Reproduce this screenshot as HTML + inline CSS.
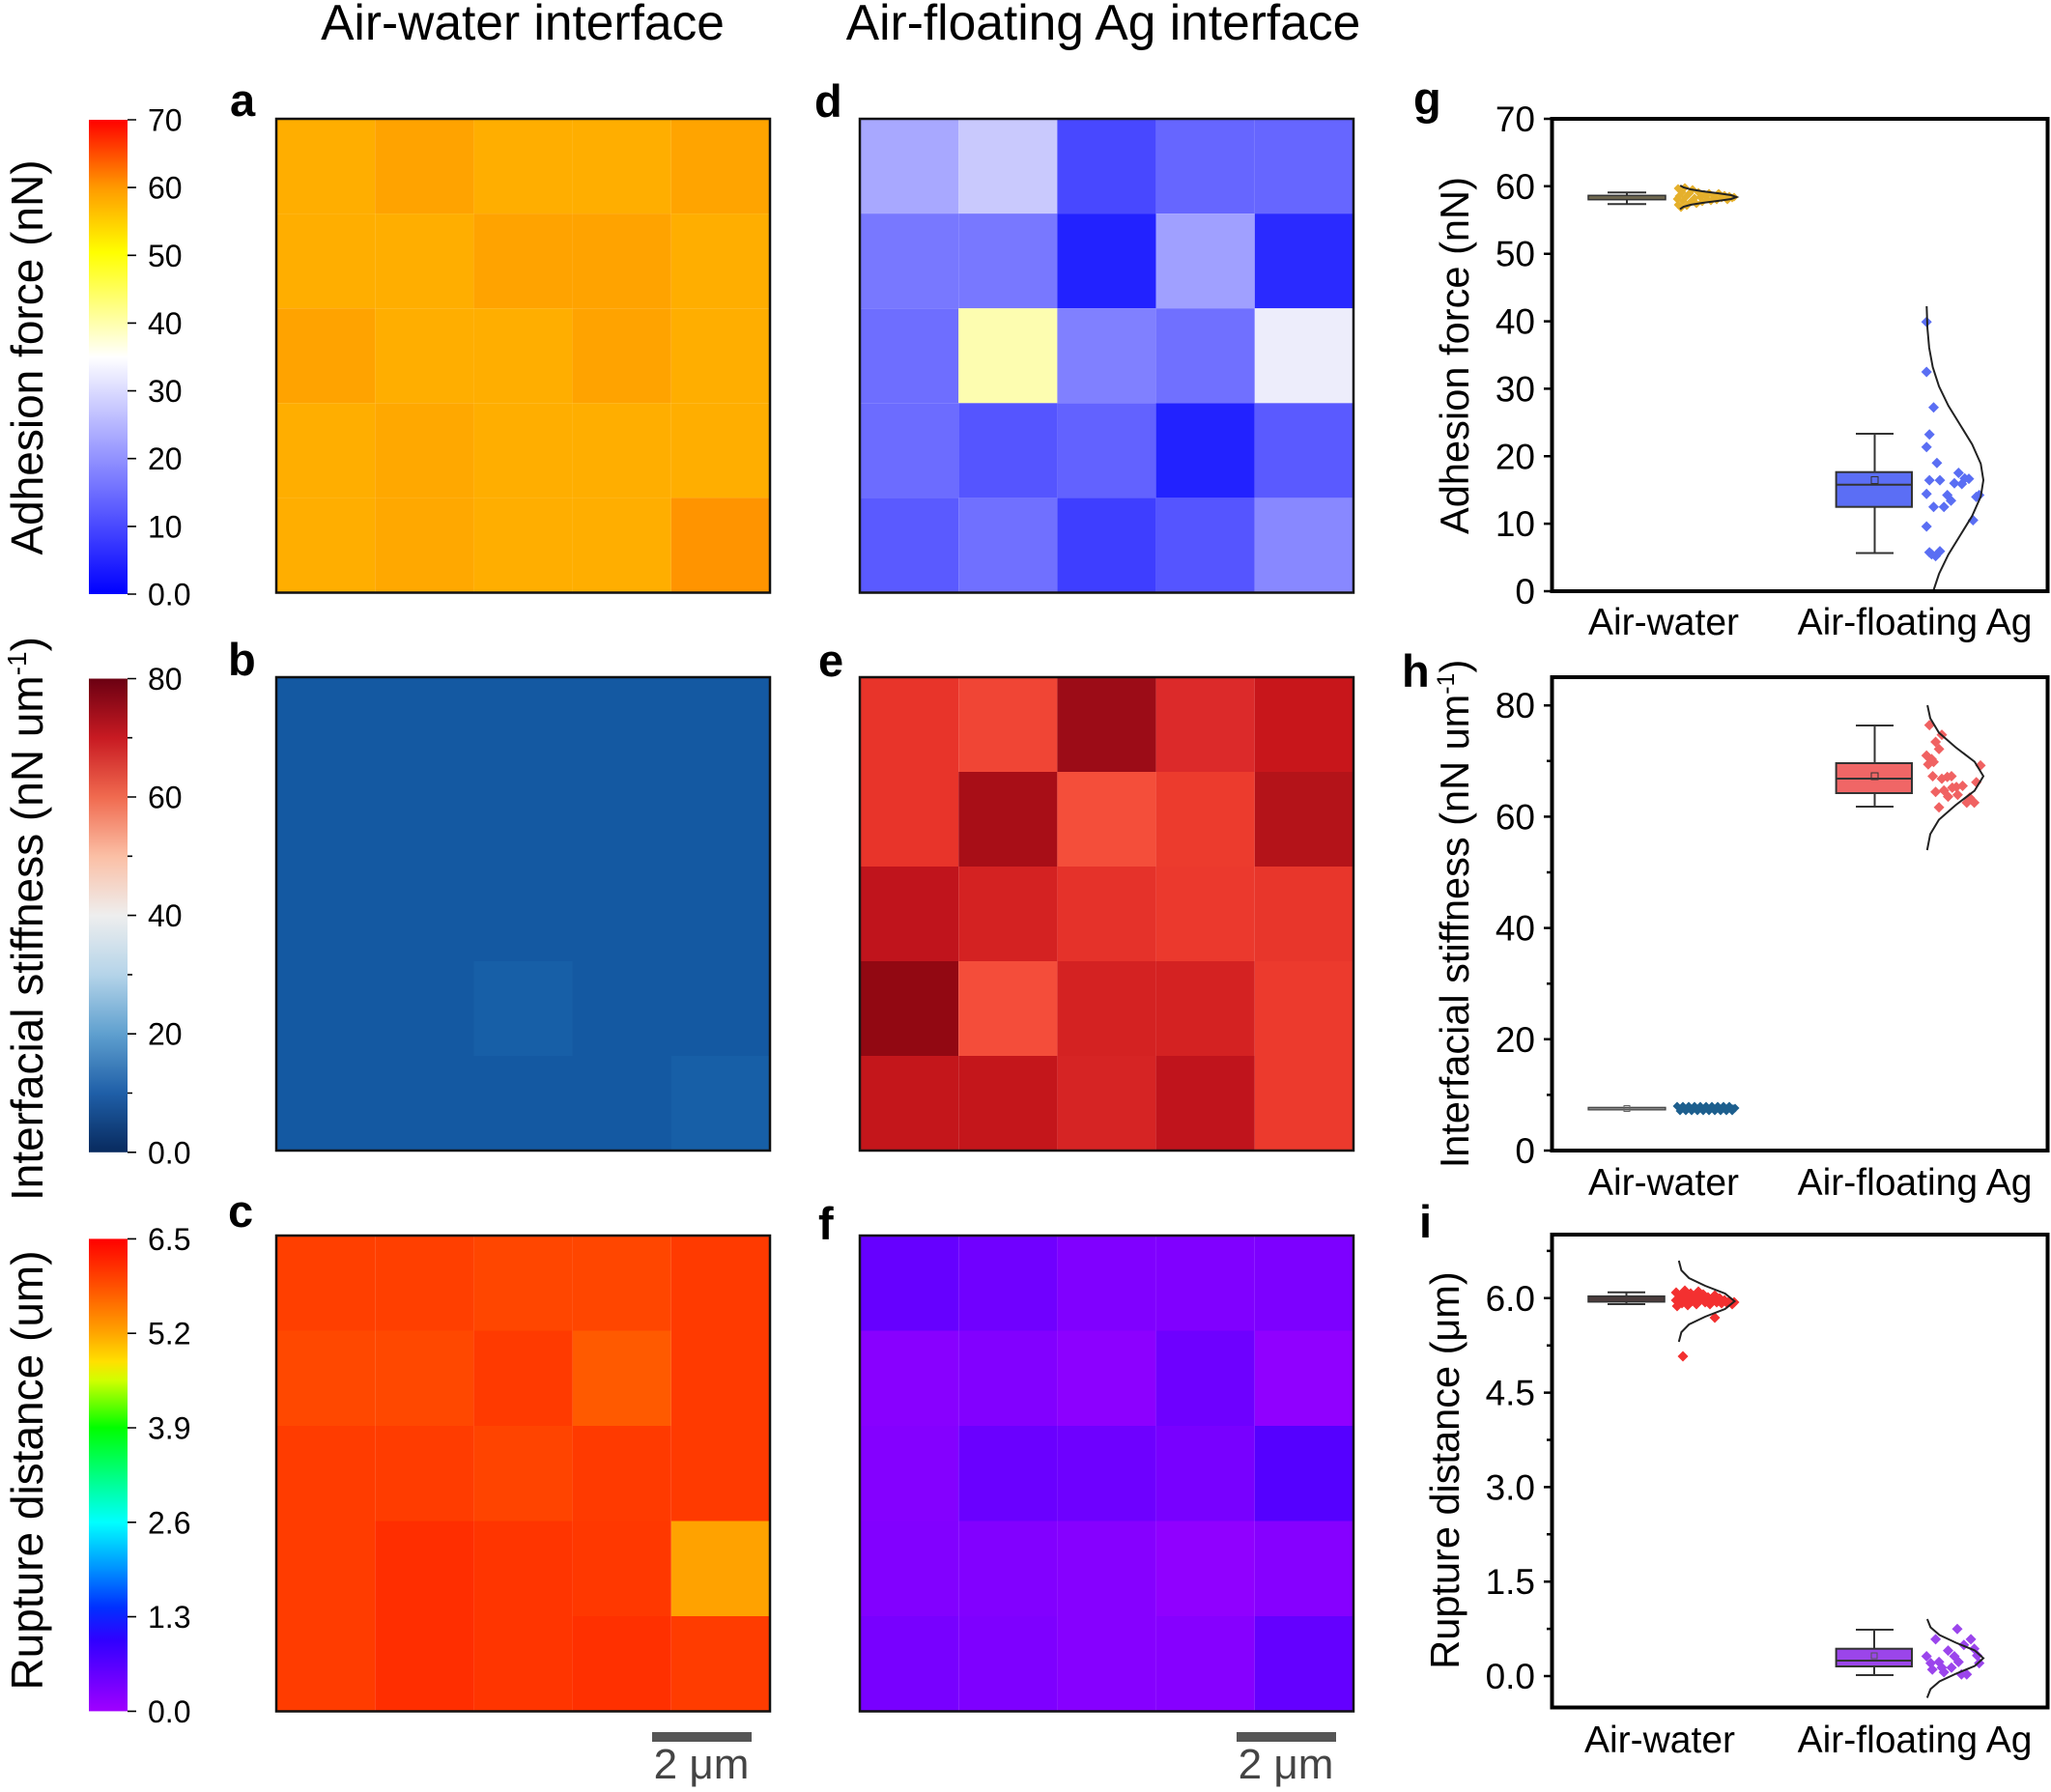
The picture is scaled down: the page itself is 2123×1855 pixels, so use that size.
<!DOCTYPE html>
<html><head><meta charset="utf-8"><style>
html,body{margin:0;padding:0;background:#fff;}
svg{display:block;font-family:"Liberation Sans",Arial,sans-serif;}
</style></head><body>
<svg width="2123" height="1855" viewBox="0 0 2123 1855" xmlns="http://www.w3.org/2000/svg">
<defs>
<linearGradient id="ga" x1="0" y1="1" x2="0" y2="0">
<stop offset="0" stop-color="#0000ff"/><stop offset="0.5" stop-color="#ffffff"/><stop offset="0.72" stop-color="#ffff00"/><stop offset="0.857" stop-color="#ff9a00"/><stop offset="1" stop-color="#ff0000"/>
</linearGradient>
<linearGradient id="gb" x1="0" y1="1" x2="0" y2="0">
<stop offset="0" stop-color="#082a5e"/><stop offset="0.125" stop-color="#1f5fa8"/><stop offset="0.25" stop-color="#5fa0cf"/><stop offset="0.375" stop-color="#b5d4e9"/><stop offset="0.5" stop-color="#eeeeee"/><stop offset="0.625" stop-color="#fbbfa5"/><stop offset="0.75" stop-color="#f06a4f"/><stop offset="0.875" stop-color="#c81a22"/><stop offset="1" stop-color="#6b0012"/>
</linearGradient>
<linearGradient id="gc" x1="0" y1="1" x2="0" y2="0">
<stop offset="0" stop-color="#a000ff"/><stop offset="0.15" stop-color="#3000ff"/><stop offset="0.22" stop-color="#0030ff"/><stop offset="0.3" stop-color="#0090ff"/><stop offset="0.4" stop-color="#00ffff"/><stop offset="0.5" stop-color="#00ff80"/><stop offset="0.6" stop-color="#00ff00"/><stop offset="0.7" stop-color="#d0ff00"/><stop offset="0.74" stop-color="#ffe000"/><stop offset="0.8" stop-color="#ffa500"/><stop offset="0.9" stop-color="#ff5000"/><stop offset="1" stop-color="#ff0000"/>
</linearGradient>
<path id="dm" d="M0,-5.5L5.5,0L0,5.5L-5.5,0Z"/>
<path id="ds" d="M0,-4.5L4.5,0L0,4.5L-4.5,0Z"/>
</defs>

<!-- Titles -->
<text x="541" y="41" font-size="51.5" text-anchor="middle">Air-water interface</text>
<text x="1142" y="41" font-size="51.5" text-anchor="middle">Air-floating Ag interface</text>

<!-- Panel labels -->
<g font-size="47" font-weight="bold">
<text x="238" y="120">a</text><text x="843" y="121">d</text><text x="1463" y="118">g</text>
<text x="236" y="699">b</text><text x="847" y="700">e</text><text x="1451" y="711">h</text>
<text x="236" y="1270">c</text><text x="847" y="1283">f</text><text x="1469" y="1281">i</text>
</g>

<!-- Colorbars -->
<rect x="92" y="124" width="40" height="491" fill="url(#ga)"/>
<rect x="92" y="702.5" width="40" height="490.3" fill="url(#gb)"/>
<rect x="92" y="1282.4" width="40" height="489" fill="url(#gc)"/>
<g stroke="#000" stroke-width="1.6">
<path d="M132,615H141M132,544.9H141M132,474.7H141M132,404.6H141M132,334.4H141M132,264.3H141M132,194.1H141M132,124H141"/>
<path d="M132,1192.8H141M132,1070.2H141M132,947.6H141M132,825H141M132,702.5H141M132,1131.5H137M132,1008.9H137M132,886.3H137M132,763.7H137"/>
<path d="M132,1771.4H141M132,1673.6H141M132,1575.8H141M132,1478H141M132,1380.2H141M132,1282.4H141"/>
</g>
<g font-size="32">
<text x="153" y="626.5">0.0</text><text x="153" y="556.4">10</text><text x="153" y="486.2">20</text><text x="153" y="416.1">30</text><text x="153" y="345.9">40</text><text x="153" y="275.8">50</text><text x="153" y="205.6">60</text><text x="153" y="135.5">70</text>
<text x="153" y="1204.3">0.0</text><text x="153" y="1081.7">20</text><text x="153" y="959.1">40</text><text x="153" y="836.5">60</text><text x="153" y="714">80</text>
<text x="153" y="1782.9">0.0</text><text x="153" y="1685.1">1.3</text><text x="153" y="1587.3">2.6</text><text x="153" y="1489.5">3.9</text><text x="153" y="1391.7">5.2</text><text x="153" y="1293.9">6.5</text>
</g>
<g font-size="46" text-anchor="middle">
<text transform="translate(44,370) rotate(-90)">Adhesion force (nN)</text>
<text transform="translate(44,951) rotate(-90)">Interfacial stiffness (nN um<tspan font-size="28" dy="-17">-1</tspan><tspan dy="17">)</tspan></text>
<text transform="translate(44,1522) rotate(-90)">Rupture distance (um)</text>
</g>

<!-- Heatmap a -->
<g>
<rect x="286" y="123" width="102.2" height="98.1" fill="#ffae00"/><rect x="388.2" y="123" width="102.2" height="98.1" fill="#ffa300"/><rect x="490.4" y="123" width="102.2" height="98.1" fill="#ffae00"/><rect x="592.6" y="123" width="102.2" height="98.1" fill="#ffae00"/><rect x="694.8" y="123" width="102.2" height="98.1" fill="#ffa400"/>
<rect x="286" y="221.1" width="102.2" height="98.1" fill="#ffae00"/><rect x="388.2" y="221.1" width="102.2" height="98.1" fill="#ffae00"/><rect x="490.4" y="221.1" width="102.2" height="98.1" fill="#ffa300"/><rect x="592.6" y="221.1" width="102.2" height="98.1" fill="#ffa300"/><rect x="694.8" y="221.1" width="102.2" height="98.1" fill="#ffae00"/>
<rect x="286" y="319.2" width="102.2" height="98.1" fill="#ffa300"/><rect x="388.2" y="319.2" width="102.2" height="98.1" fill="#ffae00"/><rect x="490.4" y="319.2" width="102.2" height="98.1" fill="#ffae00"/><rect x="592.6" y="319.2" width="102.2" height="98.1" fill="#ffa300"/><rect x="694.8" y="319.2" width="102.2" height="98.1" fill="#ffae00"/>
<rect x="286" y="417.3" width="102.2" height="98.1" fill="#ffae00"/><rect x="388.2" y="417.3" width="102.2" height="98.1" fill="#ffa800"/><rect x="490.4" y="417.3" width="102.2" height="98.1" fill="#ffae00"/><rect x="592.6" y="417.3" width="102.2" height="98.1" fill="#ffae00"/><rect x="694.8" y="417.3" width="102.2" height="98.1" fill="#ffae00"/>
<rect x="286" y="515.4" width="102.2" height="98.1" fill="#ffae00"/><rect x="388.2" y="515.4" width="102.2" height="98.1" fill="#ffa800"/><rect x="490.4" y="515.4" width="102.2" height="98.1" fill="#ffae00"/><rect x="592.6" y="515.4" width="102.2" height="98.1" fill="#ffae00"/><rect x="694.8" y="515.4" width="102.2" height="98.1" fill="#ff9400"/>
</g>
<!-- Heatmap d -->
<g>
<rect x="890" y="123" width="102.2" height="98.1" fill="#a8a8ff"/><rect x="992.2" y="123" width="102.2" height="98.1" fill="#c9c9fd"/><rect x="1094.4" y="123" width="102.2" height="98.1" fill="#4848ff"/><rect x="1196.6" y="123" width="102.2" height="98.1" fill="#6666ff"/><rect x="1298.8" y="123" width="102.2" height="98.1" fill="#6666ff"/>
<rect x="890" y="221.1" width="102.2" height="98.1" fill="#7878ff"/><rect x="992.2" y="221.1" width="102.2" height="98.1" fill="#7878ff"/><rect x="1094.4" y="221.1" width="102.2" height="98.1" fill="#2222ff"/><rect x="1196.6" y="221.1" width="102.2" height="98.1" fill="#a0a0ff"/><rect x="1298.8" y="221.1" width="102.2" height="98.1" fill="#2a2aff"/>
<rect x="890" y="319.2" width="102.2" height="98.1" fill="#6e6eff"/><rect x="992.2" y="319.2" width="102.2" height="98.1" fill="#fdfdb0"/><rect x="1094.4" y="319.2" width="102.2" height="98.1" fill="#8080ff"/><rect x="1196.6" y="319.2" width="102.2" height="98.1" fill="#7070ff"/><rect x="1298.8" y="319.2" width="102.2" height="98.1" fill="#ededfb"/>
<rect x="890" y="417.3" width="102.2" height="98.1" fill="#6c6cff"/><rect x="992.2" y="417.3" width="102.2" height="98.1" fill="#5555ff"/><rect x="1094.4" y="417.3" width="102.2" height="98.1" fill="#6262ff"/><rect x="1196.6" y="417.3" width="102.2" height="98.1" fill="#2222ff"/><rect x="1298.8" y="417.3" width="102.2" height="98.1" fill="#5a5aff"/>
<rect x="890" y="515.4" width="102.2" height="98.1" fill="#5a5aff"/><rect x="992.2" y="515.4" width="102.2" height="98.1" fill="#7070ff"/><rect x="1094.4" y="515.4" width="102.2" height="98.1" fill="#3e3eff"/><rect x="1196.6" y="515.4" width="102.2" height="98.1" fill="#5555ff"/><rect x="1298.8" y="515.4" width="102.2" height="98.1" fill="#8888ff"/>
</g>
<!-- Heatmap b -->
<g>
<rect x="286" y="701" width="511" height="490" fill="#1459a2"/>
<rect x="490.4" y="995" width="102.2" height="98" fill="#175fa7"/>
<rect x="694.8" y="1093" width="102.2" height="98" fill="#175fa7"/>
</g>
<!-- Heatmap e -->
<g>
<rect x="890" y="701" width="102.2" height="98" fill="#e8342a"/><rect x="992.2" y="701" width="102.2" height="98" fill="#f04535"/><rect x="1094.4" y="701" width="102.2" height="98" fill="#9c0c17"/><rect x="1196.6" y="701" width="102.2" height="98" fill="#dc2a2a"/><rect x="1298.8" y="701" width="102.2" height="98" fill="#c8161b"/>
<rect x="890" y="799" width="102.2" height="98" fill="#e8342a"/><rect x="992.2" y="799" width="102.2" height="98" fill="#a80e17"/><rect x="1094.4" y="799" width="102.2" height="98" fill="#f44e3a"/><rect x="1196.6" y="799" width="102.2" height="98" fill="#ec3b2d"/><rect x="1298.8" y="799" width="102.2" height="98" fill="#b41319"/>
<rect x="890" y="897" width="102.2" height="98" fill="#c0141c"/><rect x="992.2" y="897" width="102.2" height="98" fill="#d42222"/><rect x="1094.4" y="897" width="102.2" height="98" fill="#e5322a"/><rect x="1196.6" y="897" width="102.2" height="98" fill="#eb392d"/><rect x="1298.8" y="897" width="102.2" height="98" fill="#e8362b"/>
<rect x="890" y="995" width="102.2" height="98" fill="#920812"/><rect x="992.2" y="995" width="102.2" height="98" fill="#f44d3a"/><rect x="1094.4" y="995" width="102.2" height="98" fill="#d42222"/><rect x="1196.6" y="995" width="102.2" height="98" fill="#d42222"/><rect x="1298.8" y="995" width="102.2" height="98" fill="#ec3a2d"/>
<rect x="890" y="1093" width="102.2" height="98" fill="#c4161b"/><rect x="992.2" y="1093" width="102.2" height="98" fill="#c4161b"/><rect x="1094.4" y="1093" width="102.2" height="98" fill="#d62424"/><rect x="1196.6" y="1093" width="102.2" height="98" fill="#c0141c"/><rect x="1298.8" y="1093" width="102.2" height="98" fill="#ec3a2d"/>
</g>
<!-- Heatmap c -->
<g>
<rect x="286" y="1279" width="102.2" height="98.5" fill="#ff3f00"/><rect x="388.2" y="1279" width="102.2" height="98.5" fill="#ff3f00"/><rect x="490.4" y="1279" width="102.2" height="98.5" fill="#ff4600"/><rect x="592.6" y="1279" width="102.2" height="98.5" fill="#ff4600"/><rect x="694.8" y="1279" width="102.2" height="98.5" fill="#ff3a00"/>
<rect x="286" y="1377.5" width="102.2" height="98.5" fill="#ff4800"/><rect x="388.2" y="1377.5" width="102.2" height="98.5" fill="#ff4800"/><rect x="490.4" y="1377.5" width="102.2" height="98.5" fill="#ff3a00"/><rect x="592.6" y="1377.5" width="102.2" height="98.5" fill="#ff5a00"/><rect x="694.8" y="1377.5" width="102.2" height="98.5" fill="#ff3a00"/>
<rect x="286" y="1476" width="102.2" height="98.5" fill="#ff3c00"/><rect x="388.2" y="1476" width="102.2" height="98.5" fill="#ff3c00"/><rect x="490.4" y="1476" width="102.2" height="98.5" fill="#ff4400"/><rect x="592.6" y="1476" width="102.2" height="98.5" fill="#ff3a00"/><rect x="694.8" y="1476" width="102.2" height="98.5" fill="#ff3a00"/>
<rect x="286" y="1574.5" width="102.2" height="98.5" fill="#ff3c00"/><rect x="388.2" y="1574.5" width="102.2" height="98.5" fill="#ff2e00"/><rect x="490.4" y="1574.5" width="102.2" height="98.5" fill="#ff3500"/><rect x="592.6" y="1574.5" width="102.2" height="98.5" fill="#ff3800"/><rect x="694.8" y="1574.5" width="102.2" height="98.5" fill="#ffa200"/>
<rect x="286" y="1673" width="102.2" height="98.5" fill="#ff3c00"/><rect x="388.2" y="1673" width="102.2" height="98.5" fill="#ff2e00"/><rect x="490.4" y="1673" width="102.2" height="98.5" fill="#ff3500"/><rect x="592.6" y="1673" width="102.2" height="98.5" fill="#ff3000"/><rect x="694.8" y="1673" width="102.2" height="98.5" fill="#ff3c00"/>
</g>
<!-- Heatmap f -->
<g>
<rect x="890" y="1279" width="102.2" height="98.5" fill="#6600ff"/><rect x="992.2" y="1279" width="102.2" height="98.5" fill="#7000ff"/><rect x="1094.4" y="1279" width="102.2" height="98.5" fill="#8000ff"/><rect x="1196.6" y="1279" width="102.2" height="98.5" fill="#8000ff"/><rect x="1298.8" y="1279" width="102.2" height="98.5" fill="#7d00ff"/>
<rect x="890" y="1377.5" width="102.2" height="98.5" fill="#8800ff"/><rect x="992.2" y="1377.5" width="102.2" height="98.5" fill="#8200ff"/><rect x="1094.4" y="1377.5" width="102.2" height="98.5" fill="#8c00ff"/><rect x="1196.6" y="1377.5" width="102.2" height="98.5" fill="#6e00ff"/><rect x="1298.8" y="1377.5" width="102.2" height="98.5" fill="#9000ff"/>
<rect x="890" y="1476" width="102.2" height="98.5" fill="#8400ff"/><rect x="992.2" y="1476" width="102.2" height="98.5" fill="#6a00ff"/><rect x="1094.4" y="1476" width="102.2" height="98.5" fill="#6e00ff"/><rect x="1196.6" y="1476" width="102.2" height="98.5" fill="#7800ff"/><rect x="1298.8" y="1476" width="102.2" height="98.5" fill="#5500ff"/>
<rect x="890" y="1574.5" width="102.2" height="98.5" fill="#8200ff"/><rect x="992.2" y="1574.5" width="102.2" height="98.5" fill="#8200ff"/><rect x="1094.4" y="1574.5" width="102.2" height="98.5" fill="#8600ff"/><rect x="1196.6" y="1574.5" width="102.2" height="98.5" fill="#9000ff"/><rect x="1298.8" y="1574.5" width="102.2" height="98.5" fill="#8600ff"/>
<rect x="890" y="1673" width="102.2" height="98.5" fill="#7800ff"/><rect x="992.2" y="1673" width="102.2" height="98.5" fill="#7e00ff"/><rect x="1094.4" y="1673" width="102.2" height="98.5" fill="#8600ff"/><rect x="1196.6" y="1673" width="102.2" height="98.5" fill="#8600ff"/><rect x="1298.8" y="1673" width="102.2" height="98.5" fill="#6400ff"/>
</g>
<!-- Heatmap borders -->
<g fill="none" stroke="#111" stroke-width="2.5">
<rect x="286" y="123" width="511" height="490.5"/>
<rect x="890" y="123" width="511" height="490.5"/>
<rect x="286" y="701" width="511" height="490"/>
<rect x="890" y="701" width="511" height="490"/>
<rect x="286" y="1279" width="511" height="492.5"/>
<rect x="890" y="1279" width="511" height="492.5"/>
</g>
<!-- Scale bars -->
<rect x="675" y="1793" width="103" height="10" fill="#555"/>
<rect x="1280" y="1793" width="103" height="10" fill="#555"/>
<g font-size="44" fill="#444" text-anchor="middle">
<text x="726" y="1841">2 μm</text>
<text x="1331" y="1841">2 μm</text>
</g>

<!-- ===== Plot g ===== -->
<g stroke="#000" stroke-width="2.5">
<path d="M1598,612H1606M1598,542.1H1606M1598,472.3H1606M1598,402.4H1606M1598,332.6H1606M1598,262.7H1606M1598,192.8H1606M1598,123H1606"/>
</g>
<g font-size="37" text-anchor="end">
<text x="1589" y="625">0</text><text x="1589" y="555.1">10</text><text x="1589" y="485.3">20</text><text x="1589" y="415.4">30</text><text x="1589" y="345.6">40</text><text x="1589" y="275.7">50</text><text x="1589" y="205.8">60</text><text x="1589" y="136">70</text>
</g>
<text transform="translate(1520,368) rotate(-90)" font-size="41.6" text-anchor="middle">Adhesion force (nN)</text>
<g font-size="39" text-anchor="middle">
<text x="1722" y="657">Air-water</text><text x="1982" y="657">Air-floating Ag</text>
</g>
<!-- g air-water box -->
<g stroke="#333" stroke-width="2" fill="none">
<path d="M1684,199.3V211.3M1664,199.3H1704M1664,211.3H1704"/>
</g>
<rect x="1644" y="202.3" width="80" height="4.4" fill="#6e6750" stroke="#333" stroke-width="1.5"/>
<g fill="#e5b02c">
<use href="#ds" x="1737" y="195"/><use href="#ds" x="1738" y="203"/><use href="#ds" x="1737" y="212"/><use href="#ds" x="1741" y="199"/><use href="#ds" x="1742" y="208"/><use href="#ds" x="1744" y="194"/><use href="#ds" x="1745" y="204"/><use href="#ds" x="1746" y="213"/><use href="#ds" x="1749" y="200"/><use href="#ds" x="1750" y="209"/><use href="#ds" x="1752" y="196"/><use href="#ds" x="1754" y="205"/><use href="#ds" x="1756" y="211"/><use href="#ds" x="1758" y="199"/><use href="#ds" x="1760" y="204"/><use href="#ds" x="1762" y="209"/><use href="#ds" x="1764" y="201"/><use href="#ds" x="1767" y="206"/><use href="#ds" x="1769" y="200"/><use href="#ds" x="1771" y="208"/><use href="#ds" x="1774" y="203"/><use href="#ds" x="1777" y="207"/><use href="#ds" x="1779" y="200"/><use href="#ds" x="1782" y="205"/><use href="#ds" x="1785" y="202"/><use href="#ds" x="1788" y="207"/><use href="#ds" x="1790" y="203"/><use href="#ds" x="1793" y="205"/><use href="#ds" x="1795" y="204"/><use href="#ds" x="1736" y="206"/><use href="#ds" x="1740" y="215"/>
</g>
<path d="M1739.2,192L1742.6,194L1749.9,196L1762.2,198L1777.9,200L1791.9,202L1797.5,204L1791.9,206L1777.9,208L1762.2,210L1749.9,212L1742.6,214L1739,216.5" fill="none" stroke="#222" stroke-width="2"/>
<!-- g floating box -->
<g stroke="#333" stroke-width="2" fill="none">
<path d="M1940.5,449V488.7M1940.5,524.7V572.5M1921,449H1960M1921,572.5H1960"/>
</g>
<rect x="1900.6" y="488.7" width="78.4" height="36" fill="#5b6ef5" stroke="#333" stroke-width="2"/>
<path d="M1900.6,501.7H1979" stroke="#333" stroke-width="2"/>
<rect x="1937" y="493.5" width="7" height="7" fill="none" stroke="#333" stroke-width="1"/>
<g fill="#5a6ef3">
<use href="#dm" x="1994.2" y="333.3"/><use href="#dm" x="1994.2" y="385"/><use href="#dm" x="2001.5" y="421.7"/><use href="#dm" x="1997.2" y="449.7"/><use href="#dm" x="1994.2" y="462.7"/><use href="#dm" x="2004.9" y="479.2"/><use href="#dm" x="1997.2" y="497.1"/><use href="#dm" x="2008" y="497.1"/><use href="#dm" x="2027.3" y="489.5"/><use href="#dm" x="2023" y="500.2"/><use href="#dm" x="2030.7" y="501"/><use href="#dm" x="2033.7" y="495.2"/><use href="#dm" x="2038" y="495.6"/><use href="#dm" x="1994.2" y="511.3"/><use href="#dm" x="2015.7" y="512.5"/><use href="#dm" x="2019.5" y="518.2"/><use href="#dm" x="2001.5" y="524.7"/><use href="#dm" x="2012.2" y="524.7"/><use href="#dm" x="2045.7" y="514.4"/><use href="#dm" x="2048.7" y="512.5"/><use href="#dm" x="2042.3" y="538.5"/><use href="#dm" x="1994.2" y="545"/><use href="#dm" x="1997.2" y="571.8"/><use href="#dm" x="2003.6" y="575.6"/><use href="#dm" x="1999.4" y="573.7"/><use href="#dm" x="2008" y="570.6"/>
</g>
<path d="M1994.3,317L1995.1,340L1996.9,360L2000.6,380L2007.1,400L2016.8,420L2029.1,440L2041.4,460L2050.3,480L2053,497L2050.3,514L2041.4,534L2029.1,554L2016.8,574L2007.1,594L2001.1,612" fill="none" stroke="#222" stroke-width="2"/>
<rect x="1606.5" y="123" width="513" height="489" fill="none" stroke="#000" stroke-width="4"/>

<!-- ===== Plot h ===== -->
<g stroke="#000" stroke-width="2.5">
<path d="M1598,1191H1606M1598,1075.8H1606M1598,960.6H1606M1598,845.4H1606M1598,730.2H1606"/>
<path d="M1601,1133.4H1606M1601,1018.2H1606M1601,903H1606M1601,787.8H1606"/>
</g>
<g font-size="37" text-anchor="end">
<text x="1589" y="1204">0</text><text x="1589" y="1088.8">20</text><text x="1589" y="973.6">40</text><text x="1589" y="858.4">60</text><text x="1589" y="743.2">80</text>
</g>
<text transform="translate(1520,946) rotate(-90)" font-size="41.5" text-anchor="middle">Interfacial stiffness (nN um<tspan font-size="25" dy="-15">-1</tspan><tspan dy="15">)</tspan></text>
<g font-size="39" text-anchor="middle">
<text x="1722" y="1237">Air-water</text><text x="1982" y="1237">Air-floating Ag</text>
</g>
<rect x="1644" y="1146.3" width="80" height="2.6" fill="#888" stroke="#444" stroke-width="1.2"/>
<rect x="1681" y="1144.5" width="6" height="6" fill="none" stroke="#666" stroke-width="1"/>
<rect x="1736" y="1143.5" width="60" height="8" fill="#1d5f8e"/>
<g fill="#1d5f8e">
<use href="#ds" x="1736" y="1145"/><use href="#ds" x="1739" y="1150"/><use href="#ds" x="1742" y="1145"/><use href="#ds" x="1745" y="1150"/><use href="#ds" x="1748" y="1145"/><use href="#ds" x="1751" y="1150"/><use href="#ds" x="1754" y="1145"/><use href="#ds" x="1757" y="1150"/><use href="#ds" x="1760" y="1145"/><use href="#ds" x="1763" y="1150"/><use href="#ds" x="1766" y="1145"/><use href="#ds" x="1769" y="1150"/><use href="#ds" x="1772" y="1145"/><use href="#ds" x="1775" y="1150"/><use href="#ds" x="1778" y="1145"/><use href="#ds" x="1781" y="1150"/><use href="#ds" x="1784" y="1145"/><use href="#ds" x="1787" y="1150"/><use href="#ds" x="1790" y="1145"/><use href="#ds" x="1793" y="1150"/><use href="#ds" x="1796" y="1147"/>
</g>
<g stroke="#333" stroke-width="2" fill="none">
<path d="M1940.5,751V790M1940.5,821V835M1921,751H1960M1921,835H1960"/>
</g>
<rect x="1900.6" y="790" width="78.4" height="31" fill="#f06666" stroke="#333" stroke-width="2"/>
<path d="M1900.6,806H1979" stroke="#333" stroke-width="2"/>
<rect x="1937" y="800" width="7" height="7" fill="none" stroke="#333" stroke-width="1"/>
<g fill="#f06262">
<use href="#dm" x="1997.2" y="750.6"/><use href="#dm" x="2010" y="760.6"/><use href="#dm" x="2003.6" y="768"/><use href="#dm" x="2007.1" y="775.4"/><use href="#dm" x="1994.2" y="782.1"/><use href="#dm" x="1999.4" y="785.8"/><use href="#dm" x="1995.9" y="791.3"/><use href="#dm" x="2001.5" y="788.7"/><use href="#dm" x="2050" y="792.4"/><use href="#dm" x="2000.6" y="803.5"/><use href="#dm" x="2010" y="806.1"/><use href="#dm" x="2015.7" y="804.3"/><use href="#dm" x="2020" y="803.5"/><use href="#dm" x="2003.6" y="819.8"/><use href="#dm" x="2012.2" y="818.3"/><use href="#dm" x="2020.8" y="815.4"/><use href="#dm" x="2025.1" y="814.6"/><use href="#dm" x="2031.5" y="813.5"/><use href="#dm" x="2045.7" y="809.8"/><use href="#dm" x="2016.5" y="824.6"/><use href="#dm" x="2007.1" y="835.7"/><use href="#dm" x="2026.4" y="822.8"/><use href="#dm" x="2035.8" y="830.9"/><use href="#dm" x="2043.6" y="830.9"/><use href="#dm" x="2038.8" y="825.7"/>
</g>
<path d="M1995.1,730L1998,743.5L2007,758.5L2024.2,773.5L2043.9,788.5L2053,803.5L2043.9,818.5L2024.2,833.5L2007,848.5L1998,863.5L1994.8,880" fill="none" stroke="#222" stroke-width="2"/>
<rect x="1606.5" y="701" width="513" height="490" fill="none" stroke="#000" stroke-width="4"/>

<!-- ===== Plot i ===== -->
<g stroke="#000" stroke-width="2.5">
<path d="M1598,1735H1606M1598,1637.2H1606M1598,1539.4H1606M1598,1441.6H1606M1598,1343.8H1606"/>
<path d="M1601,1686.1H1606M1601,1588.3H1606M1601,1490.5H1606M1601,1392.7H1606M1601,1294.9H1606"/>
</g>
<g font-size="37" text-anchor="end">
<text x="1589" y="1748">0.0</text><text x="1589" y="1650.2">1.5</text><text x="1589" y="1552.4">3.0</text><text x="1589" y="1454.6">4.5</text><text x="1589" y="1356.8">6.0</text>
</g>
<text transform="translate(1510,1522) rotate(-90)" font-size="41.5" text-anchor="middle">Rupture distance (μm)</text>
<g font-size="39" text-anchor="middle">
<text x="1718" y="1814">Air-water</text><text x="1982" y="1814">Air-floating Ag</text>
</g>
<g stroke="#333" stroke-width="2" fill="none">
<path d="M1683.5,1337.7V1350M1664,1337.7H1703M1664,1350H1703"/>
</g>
<rect x="1644" y="1341.7" width="79" height="6" fill="#4b3d3d" stroke="#333" stroke-width="1.5"/>
<g fill="#f33030">
<use href="#dm" x="1735" y="1338"/><use href="#dm" x="1735" y="1346"/><use href="#dm" x="1736" y="1352"/><use href="#dm" x="1740" y="1341"/><use href="#dm" x="1741" y="1349"/><use href="#dm" x="1744" y="1336"/><use href="#dm" x="1745" y="1344"/><use href="#dm" x="1747" y="1351"/><use href="#dm" x="1750" y="1339"/><use href="#dm" x="1751" y="1347"/><use href="#dm" x="1754" y="1342"/><use href="#dm" x="1756" y="1350"/><use href="#dm" x="1758" y="1337"/><use href="#dm" x="1760" y="1345"/><use href="#dm" x="1763" y="1340"/><use href="#dm" x="1765" y="1348"/><use href="#dm" x="1768" y="1343"/><use href="#dm" x="1770" y="1350"/><use href="#dm" x="1772" y="1345"/><use href="#dm" x="1775" y="1341"/><use href="#dm" x="1777" y="1348"/><use href="#dm" x="1780" y="1344"/><use href="#dm" x="1782" y="1349"/><use href="#dm" x="1785" y="1346"/><use href="#dm" x="1788" y="1349"/><use href="#dm" x="1790" y="1347"/><use href="#dm" x="1793" y="1350"/><use href="#dm" x="1795" y="1348"/><use href="#dm" x="1775" y="1364"/><use href="#dm" x="1742" y="1404"/>
</g>
<path d="M1737.8,1305L1740.4,1315L1748.3,1323L1765,1331L1785.6,1339L1795.5,1347L1785.6,1355L1765,1363L1748.3,1371L1740.4,1379L1737.8,1389" fill="none" stroke="#222" stroke-width="2"/>
<g stroke="#333" stroke-width="2" fill="none">
<path d="M1940,1687V1706.7M1940,1725V1734M1921,1687H1960M1921,1734H1960"/>
</g>
<rect x="1900.6" y="1706.7" width="78.4" height="18.3" fill="#9b45ea" stroke="#333" stroke-width="2"/>
<path d="M1900.6,1719H1979" stroke="#333" stroke-width="2"/>
<rect x="1937" y="1711" width="6" height="6" fill="none" stroke="#555" stroke-width="1"/>
<g fill="#9b45ec">
<use href="#dm" x="2026" y="1686.3"/><use href="#dm" x="2003.6" y="1696.9"/><use href="#dm" x="2040.1" y="1696.9"/><use href="#dm" x="2032.8" y="1702.7"/><use href="#dm" x="1994.2" y="1714.5"/><use href="#dm" x="2007.1" y="1720.4"/><use href="#dm" x="2023" y="1714.5"/><use href="#dm" x="2046.6" y="1713.7"/><use href="#dm" x="2000.2" y="1728.2"/><use href="#dm" x="2012.2" y="1731"/><use href="#dm" x="2020" y="1726.3"/><use href="#dm" x="2030.3" y="1733.3"/><use href="#dm" x="2035.8" y="1733.3"/><use href="#dm" x="2048.7" y="1721.6"/><use href="#dm" x="1998.5" y="1721.6"/><use href="#dm" x="2016.5" y="1708.6"/><use href="#dm" x="2027.3" y="1720.4"/><use href="#dm" x="2010" y="1726.3"/><use href="#dm" x="2043.6" y="1706.7"/>
</g>
<path d="M1994.9,1676L1998.3,1684.5L2007.6,1692.5L2024.7,1700.5L2044.1,1708.5L2053,1716.5L2044.1,1724.5L2024.7,1732.5L2007.6,1740.5L1998.3,1748.5L1994.8,1757.5" fill="none" stroke="#222" stroke-width="2"/>
<rect x="1606.5" y="1278" width="513" height="489.5" fill="none" stroke="#000" stroke-width="4"/>
</svg>
</body></html>
